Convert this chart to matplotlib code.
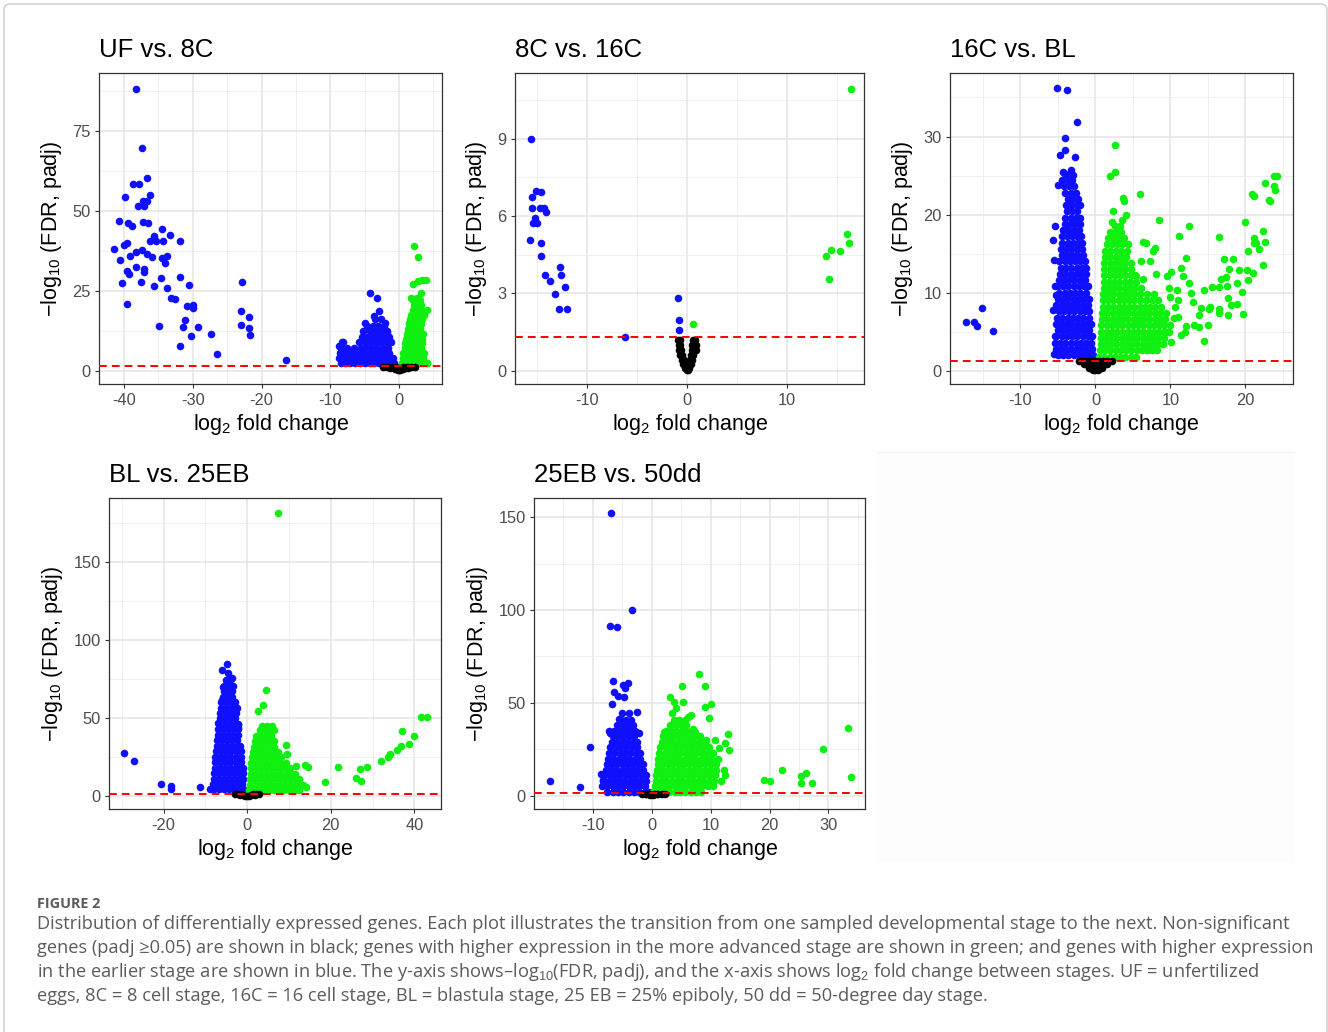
import numpy as np
import matplotlib.pyplot as plt
from matplotlib.patches import FancyBboxPatch, Rectangle
from matplotlib.transforms import IdentityTransform

plt.rcParams['font.family'] = ['Liberation Sans', 'DejaVu Sans']
plt.rcParams['mathtext.fontset'] = 'custom'
plt.rcParams['mathtext.rm'] = 'Liberation Sans'
plt.rcParams['mathtext.it'] = 'Liberation Sans:italic'
plt.rcParams['mathtext.bf'] = 'Liberation Sans:bold'
plt.rcParams['axes.unicode_minus'] = False

# ---------------- data ----------------
titles = ["UF vs. 8C", "8C vs. 16C", "16C vs. BL", "BL vs. 25EB", "25EB vs. 50dd"]
xlims = [(-43.6, 6.2), (-17.2, 17.7), (-19.4, 26.3), (-33.0, 46.3), (-19.9, 36.2)]
ylims = [(-4.3, 93.1), (-0.53, 11.54), (-1.74, 38.1), (-8.7, 190.6), (-7.3, 160.2)]
xticks = [[-40, -30, -20, -10, 0], [-10, 0, 10], [-10, 0, 10, 20],
          [-20, 0, 20, 40], [-10, 0, 10, 20, 30]]
yticks = [[0, 25, 50, 75], [0, 3, 6, 9], [0, 10, 20, 30],
          [0, 50, 100, 150], [0, 50, 100, 150]]
padj_cut = 0.05

# UF vs. 8C
uf_blue_pts = [(-38.3, 88.3), (-37.4, 69.7), (-36.6, 60.2), (-38.7, 58.3), (-37.8, 58.3),
               (-36.2, 55.0), (-39.9, 54.4), (-37.2, 53.2), (-36.7, 53.2), (-38.0, 51.6),
               (-37.1, 51.6), (-40.8, 46.9), (-39.4, 46.3), (-38.9, 45.4), (-37.2, 46.6),
               (-36.5, 46.3), (-34.5, 44.3), (-33.3, 42.4), (-35.7, 42.1), (-35.3, 40.7),
               (-36.2, 40.5), (-34.4, 40.5), (-31.8, 40.5), (-39.6, 40.1), (-40.0, 39.3),
               (-41.5, 38.0), (-38.3, 37.2), (-37.4, 37.8), (-36.7, 36.5), (-39.2, 35.9),
               (-36.0, 35.5), (-34.5, 35.1), (-33.7, 36.0), (-40.6, 34.6), (-34.0, 33.8),
               (-38.3, 32.3), (-37.1, 31.7), (-37.1, 31.0), (-39.5, 31.3), (-39.3, 30.2),
               (-31.8, 29.2), (-34.6, 29.0), (-37.5, 27.8), (-40.3, 27.5), (-30.6, 26.8),
               (-35.6, 26.6), (-33.7, 25.9), (-33.2, 22.8), (-32.6, 22.3), (-30.9, 20.2),
               (-29.9, 20.5), (-29.9, 19.5), (-39.6, 20.8), (-31.2, 15.9), (-31.4, 13.5),
               (-30.2, 10.8), (-29.2, 13.8), (-34.9, 14.1), (-31.8, 7.7), (-27.3, 11.5),
               (-26.5, 5.2), (-22.8, 27.8), (-23.0, 18.5), (-23.0, 14.4), (-21.8, 16.9),
               (-21.8, 13.2), (-21.7, 11.2), (-16.5, 3.3),
               (-4.3, 24.2), (-3.2, 22.7), (-2.9, 18.5), (-3.7, 17.1), (-4.9, 14.8),
               (-2.0, 14.8), (-8.2, 9.1), (-8.8, 7.7), (-1.8, 11.7), (-3.5, 16.0), (-2.6, 16.2)]
uf_blue_rows = [(2.5, [-8.5, -7.8, -7.1, -6.4, -5.7, -5.0, -4.3, -3.6, -2.9, -2.2, -1.5, -0.8]),
                (4.0, [-8.8, -8.0, -7.2, -6.4, -5.6, -4.8, -4.0, -3.2, -2.4, -1.6, -0.9]),
                (5.5, [-8.6, -7.8, -7.0, -6.2, -5.4, -4.6, -3.8, -3.0, -2.2, -1.4]),
                (7.0, [-8.5, -7.6, -6.6, -5.6, -4.8, -4.0, -3.2, -2.4, -1.6]),
                (8.8, [-8.3, -5.8, -5.0, -4.2, -3.4, -2.6, -1.8, -1.2]),
                (10.5, [-5.4, -4.6, -3.8, -3.0, -2.2, -1.4]),
                (12.3, [-5.2, -4.2, -3.4, -2.6, -1.8]),
                (14.0, [-4.6, -3.8, -3.0, -2.2])]
uf_green_pts = [(2.2, 39.1), (2.7, 35.7), (2.8, 28.2), (3.3, 28.4), (3.9, 28.4), (2.0, 27.1),
                (3.2, 24.2), (1.8, 22.6), (2.6, 22.6), (4.0, 19.0), (1.4, 14.8), (4.0, 2.5),
                (0.6, 5.4)]
uf_green_rows = [(2.5, [0.4, 1.0, 1.6, 2.2, 2.8, 3.4, 4.0]),
                 (4.0, [0.5, 1.1, 1.7, 2.3, 2.9, 3.5]),
                 (5.5, [0.7, 1.3, 1.9, 2.5, 3.1, 3.6]),
                 (7.0, [0.8, 1.4, 2.0, 2.6, 3.2]),
                 (8.5, [0.9, 1.5, 2.1, 2.7, 3.3]),
                 (10.0, [1.0, 1.6, 2.2, 2.8, 3.4]),
                 (11.5, [1.1, 1.7, 2.3, 2.9, 3.5]),
                 (13.0, [1.3, 1.9, 2.5, 3.1]),
                 (14.5, [1.4, 2.0, 2.6, 3.2]),
                 (16.0, [1.6, 2.2, 2.8, 3.4]),
                 (17.5, [1.8, 2.4, 3.0, 3.6]),
                 (19.0, [2.0, 2.6, 3.2]),
                 (20.5, [2.2, 2.8, 3.2]),
                 (22.0, [2.0, 2.6, 3.0])]
uf_black_rows = [(0.1, [-0.2, 0.0, 0.2]),
                 (0.4, [-0.6, -0.3, 0.3, 0.6]),
                 (0.8, [-1.3, -0.8, -0.4, 0.0, 0.4, 0.8, 1.3]),
                 (1.2, [-2.3, -1.7, -1.1, -0.5, 0.5, 1.1, 1.7, 2.3])]

# 8C vs. 16C
c8_blue_pts = [(-15.6, 9.0), (-15.1, 6.98), (-14.6, 6.92), (-15.5, 6.75), (-15.5, 6.30),
               (-14.7, 6.30), (-14.3, 6.32), (-14.1, 6.14), (-15.2, 5.94), (-15.4, 5.72),
               (-15.0, 5.72), (-15.7, 5.07), (-14.6, 4.94), (-14.6, 4.45), (-14.2, 3.70),
               (-13.7, 3.49), (-12.7, 4.03), (-12.6, 3.70), (-12.2, 3.26), (-13.2, 2.96),
               (-12.8, 2.41), (-12.0, 2.41), (-6.2, 1.29), (-0.9, 2.83), (-0.83, 1.98),
               (-0.83, 1.58)]
c8_blue_rows = []
c8_green_pts = [(16.4, 10.95), (0.63, 1.80), (13.9, 4.46), (14.4, 4.68), (15.3, 4.66),
                (16.0, 5.30), (16.2, 4.94), (14.2, 3.57)]
c8_green_rows = []
c8_black_rows = [(1.2, [-0.9, -0.75, 0.55, 0.7, 0.8]),
                 (1.0, [-0.85, -0.7, 0.5, 0.7, 0.85]),
                 (0.8, [-0.8, -0.6, 0.45, 0.65, 0.9]),
                 (0.6, [-0.7, -0.5, 0.35, 0.6]),
                 (0.4, [-0.55, -0.35, 0.25, 0.45]),
                 (0.25, [-0.4, -0.2, 0.15, 0.35]),
                 (0.1, [-0.2, 0.0, 0.2]),
                 (0.03, [-0.05, 0.05])]

# 16C vs. BL
c16_blue_pts = [(-5.1, 36.2), (-3.85, 36.0), (-2.5, 31.8), (-4.1, 29.8), (-4.1, 28.3),
                (-4.7, 27.6), (-2.7, 27.4), (-4.3, 25.4), (-3.3, 25.7), (-3.0, 25.1),
                (-5.0, 23.8), (-5.7, 16.7), (-5.4, 18.5), (-5.5, 14.2), (-5.4, 10.8),
                (-5.3, 9.7), (-5.7, 7.8), (-5.4, 4.4), (-5.5, 2.2), (-17.2, 6.3),
                (-16.2, 6.3), (-15.8, 5.7), (-15.1, 8.0), (-13.7, 5.1)]
c16_blue_rows = [(2.0, [-5.0, -4.3, -3.6, -2.9, -2.2, -1.5, -0.8, -0.3]),
                 (2.8, [-5.3, -4.6, -3.9, -3.2, -2.5, -1.8, -1.1, -0.5]),
                 (3.6, [-5.4, -4.7, -4.0, -3.3, -2.6, -1.9, -1.2, -0.6]),
                 (4.4, [-5.2, -4.5, -3.8, -3.1, -2.4, -1.7, -1.0, -0.5]),
                 (5.2, [-5.0, -4.3, -3.6, -2.9, -2.2, -1.5, -0.8]),
                 (6.0, [-5.3, -4.6, -3.9, -3.2, -2.5, -1.8, -1.1, -0.6]),
                 (6.8, [-5.1, -4.4, -3.7, -3.0, -2.3, -1.6, -0.9]),
                 (7.6, [-4.9, -4.2, -3.5, -2.8, -2.1, -1.4, -0.8]),
                 (8.4, [-5.2, -4.5, -3.8, -3.1, -2.4, -1.7, -1.0]),
                 (9.2, [-5.0, -4.3, -3.6, -2.9, -2.2, -1.5, -0.9]),
                 (10.0, [-4.8, -4.1, -3.4, -2.7, -2.0, -1.3]),
                 (10.8, [-5.0, -4.3, -3.6, -2.9, -2.2, -1.5, -1.0]),
                 (11.6, [-4.9, -4.2, -3.5, -2.8, -2.1, -1.4]),
                 (12.4, [-4.7, -4.0, -3.3, -2.6, -1.9, -1.2]),
                 (13.2, [-4.6, -3.9, -3.2, -2.5, -1.8, -1.3]),
                 (14.0, [-4.8, -4.1, -3.4, -2.7, -2.0, -1.4]),
                 (14.8, [-4.5, -3.8, -3.1, -2.4, -1.7]),
                 (15.6, [-4.6, -3.9, -3.2, -2.5, -1.8]),
                 (16.4, [-4.4, -3.7, -3.0, -2.3, -1.8]),
                 (17.2, [-4.5, -3.8, -3.1, -2.4, -1.9]),
                 (18.0, [-4.3, -3.6, -2.9, -2.2]),
                 (18.8, [-4.1, -3.4, -2.7, -2.0]),
                 (19.6, [-4.0, -3.3, -2.6, -2.1]),
                 (20.4, [-3.8, -3.1, -2.4]),
                 (21.2, [-3.9, -3.2, -2.5, -2.0]),
                 (22.0, [-3.7, -3.0, -2.3]),
                 (22.8, [-4.0, -3.3, -2.6]),
                 (23.6, [-4.2, -3.5, -2.8]),
                 (24.4, [-4.5, -3.6, -3.1]),
                 (25.2, [-4.1, -3.4])]
c16_green_pts = [(2.65, 28.9), (2.57, 25.5), (2.0, 24.9), (5.9, 22.6), (3.7, 22.1), (3.8, 21.7),
                 (2.35, 20.5), (4.1, 20.0), (2.2, 19.1), (3.6, 19.3), (8.45, 19.3), (12.5, 18.5),
                 (11.2, 17.3), (16.5, 17.1), (6.3, 16.5), (6.8, 16.3), (7.9, 15.7), (7.7, 15.3),
                 (6.1, 14.0), (7.3, 14.0), (12.1, 14.5), (8.1, 12.4), (5.4, 12.1), (6.3, 11.8),
                 (9.5, 12.1), (10.1, 12.7), (11.4, 13.1), (11.7, 12.1), (12.5, 11.2),
                 (17.2, 14.3), (18.3, 14.3), (17.8, 13.0), (19.2, 12.9), (20.2, 12.9),
                 (21.0, 12.5), (22.3, 13.5), (16.7, 11.8), (17.4, 12.0), (16.5, 10.7),
                 (15.6, 10.7), (14.5, 10.3), (17.6, 10.8), (18.9, 11.2), (20.3, 11.6),
                 (19.6, 10.1), (17.7, 9.3), (18.1, 8.4), (18.9, 8.6), (16.5, 7.9), (16.5, 7.4),
                 (17.7, 7.2), (19.7, 7.3), (15.1, 7.9), (15.3, 8.2), (14.1, 8.0), (13.8, 7.1),
                 (13.0, 8.8), (12.7, 9.9), (14.5, 3.85), (15.0, 5.8), (13.8, 5.6), (13.2, 5.9),
                 (12.1, 5.7), (11.9, 5.0), (11.4, 4.6), (10.1, 3.7), (9.5, 5.0), (10.5, 6.7),
                 (11.0, 6.9), (20.9, 22.7), (21.2, 22.4), (22.6, 24.0), (23.8, 24.9),
                 (24.2, 24.9), (23.8, 23.6), (23.9, 23.2), (23.1, 21.9), (23.3, 21.8),
                 (22.3, 17.9), (20.0, 19.1), (21.2, 17.0), (21.4, 16.3), (21.1, 16.3),
                 (20.3, 15.3), (21.8, 15.6), (22.6, 16.5), (10.0, 9.5), (11.0, 9.0),
                 (10.6, 8.2), (9.8, 10.6), (10.9, 10.3)]
c16_green_rows = [(1.8, [0.5, 1.2, 1.9, 2.6, 3.3, 4.0, 4.7, 5.4]),
                  (2.6, [0.6, 1.3, 2.0, 2.7, 3.4, 4.1, 4.8, 5.5, 6.2, 6.9, 7.6, 8.2]),
                  (3.4, [0.7, 1.4, 2.1, 2.8, 3.5, 4.2, 4.9, 5.6, 6.3, 7.0, 7.7, 8.4, 9.0]),
                  (4.2, [0.7, 1.4, 2.1, 2.8, 3.5, 4.2, 4.9, 5.6, 6.3, 7.0, 7.7, 8.4, 9.1]),
                  (5.0, [0.8, 1.5, 2.2, 2.9, 3.6, 4.3, 5.0, 5.7, 6.4, 7.1, 7.8, 8.5, 9.2, 9.8]),
                  (5.8, [0.8, 1.5, 2.2, 2.9, 3.6, 4.3, 5.0, 5.7, 6.4, 7.1, 7.8, 8.5, 9.2, 9.9]),
                  (6.6, [0.9, 1.6, 2.3, 3.0, 3.7, 4.4, 5.1, 5.8, 6.5, 7.2, 7.9, 8.6, 9.3]),
                  (7.4, [0.9, 1.6, 2.3, 3.0, 3.7, 4.4, 5.1, 5.8, 6.5, 7.2, 7.9, 8.6, 9.4]),
                  (8.2, [1.0, 1.7, 2.4, 3.1, 3.8, 4.5, 5.2, 5.9, 6.6, 7.3, 8.0, 8.8]),
                  (9.0, [1.0, 1.7, 2.4, 3.1, 3.8, 4.5, 5.2, 5.9, 6.7, 7.5, 8.4]),
                  (9.8, [1.0, 1.7, 2.4, 3.1, 3.8, 4.5, 5.2, 6.0, 6.9, 7.8]),
                  (10.6, [1.1, 1.8, 2.5, 3.2, 3.9, 4.6, 5.3, 6.1]),
                  (11.4, [1.1, 1.8, 2.5, 3.2, 3.9, 4.6, 5.4]),
                  (12.2, [1.2, 1.9, 2.6, 3.3, 4.0, 4.7, 5.3]),
                  (13.0, [1.2, 1.9, 2.6, 3.3, 4.0, 4.8]),
                  (13.8, [1.2, 1.9, 2.6, 3.3, 4.0, 4.7]),
                  (14.6, [1.3, 2.0, 2.7, 3.4, 4.1]),
                  (15.4, [1.3, 2.0, 2.7, 3.4, 4.2]),
                  (16.2, [1.5, 2.2, 2.9, 3.6, 4.3]),
                  (17.0, [1.7, 2.4, 3.1, 3.8]),
                  (17.8, [2.0, 2.7, 3.4]),
                  (18.6, [2.6, 3.3])]
c16_black_rows = [(1.2, [-2.2, -1.6, -1.0, -0.5, 0.0, 0.5, 1.0, 1.6, 2.2]),
                  (0.8, [-1.5, -1.0, -0.5, 0.0, 0.5, 1.0, 1.5]),
                  (0.4, [-0.9, -0.45, 0.0, 0.45, 0.9]),
                  (0.1, [-0.3, 0.0, 0.3])]

# BL vs. 25EB
bl_blue_pts = [(-29.4, 27.6), (-27.1, 22.2), (-20.6, 7.3), (-18.3, 6.4), (-18.3, 4.3),
               (-11.3, 5.8), (-8.9, 4.3), (-4.9, 84.2), (-6.1, 80.6), (-3.7, 75.2),
               (-4.5, 78.4), (-5.7, 69.9), (-5.3, 66.7), (-6.1, 61.4), (-2.5, 56.0),
               (-6.9, 46.4), (-2.1, 45.3), (-2.3, 43.2)]
bl_blue_rows = [(4.0, [-8.0, -6.8, -5.6, -4.4, -3.2, -2.0, -0.9]),
                (7.5, [-8.3, -7.1, -5.9, -4.7, -3.5, -2.3, -1.2]),
                (11.0, [-8.0, -6.8, -5.6, -4.4, -3.2, -2.0, -0.9]),
                (14.5, [-7.9, -6.7, -5.5, -4.3, -3.1, -1.9, -0.9]),
                (18.0, [-7.8, -6.6, -5.4, -4.2, -3.0, -1.8, -1.0]),
                (21.5, [-7.6, -6.4, -5.2, -4.0, -2.8, -1.6]),
                (25.0, [-7.6, -6.4, -5.2, -4.0, -2.8, -1.5]),
                (28.5, [-7.4, -6.2, -5.0, -3.8, -2.6, -1.6]),
                (32.0, [-7.3, -6.1, -4.9, -3.7, -2.5, -1.7]),
                (35.5, [-7.2, -6.0, -4.8, -3.6, -2.4]),
                (39.0, [-7.0, -5.8, -4.6, -3.4, -2.3]),
                (42.5, [-6.9, -5.7, -4.5, -3.3, -2.3]),
                (46.0, [-6.8, -5.6, -4.4, -3.2, -2.2]),
                (49.5, [-6.6, -5.4, -4.2, -3.0]),
                (53.0, [-6.4, -5.2, -4.0, -2.8]),
                (56.5, [-6.3, -5.1, -3.9, -2.7]),
                (60.0, [-6.2, -5.0, -3.8, -2.9]),
                (63.5, [-5.9, -4.8, -3.7]),
                (67.0, [-5.6, -4.6, -3.6]),
                (70.5, [-5.5, -4.5, -3.5]),
                (74.0, [-5.0, -4.0])]
bl_green_pts = [(7.4, 181.4), (4.5, 67.7), (3.8, 58.1), (2.5, 54.5), (9.2, 32.5), (9.6, 26.5),
                (11.6, 19.2), (13.9, 19.7), (14.6, 18.6), (14.0, 5.3), (18.7, 8.5), (21.8, 18.2),
                (26.1, 11.5), (27.2, 9.4), (26.9, 16.9), (28.7, 18.6), (32.1, 22.2), (33.7, 25.0),
                (34.1, 26.7), (35.9, 29.3), (36.7, 32.1), (37.1, 41.5), (38.7, 32.9), (39.8, 38.2),
                (41.5, 50.2), (43.1, 50.2), (5.8, 44.3), (4.6, 44.3), (5.4, 38.9)]
bl_green_rows = [(3.5, [0.5, 1.7, 2.9, 4.1, 5.3, 6.5, 7.7, 8.9, 10.1, 11.3, 12.5]),
                 (7.0, [0.6, 1.8, 3.0, 4.2, 5.4, 6.6, 7.8, 9.0, 10.2, 11.4, 12.6, 13.4]),
                 (10.5, [0.7, 1.9, 3.1, 4.3, 5.5, 6.7, 7.9, 9.1, 10.3, 11.5, 12.5]),
                 (14.0, [0.8, 2.0, 3.2, 4.4, 5.6, 6.8, 8.0, 9.2, 10.4, 11.4]),
                 (17.5, [0.9, 2.1, 3.3, 4.5, 5.7, 6.9, 8.1, 9.3, 10.3]),
                 (21.0, [1.0, 2.2, 3.4, 4.6, 5.8, 7.0, 8.2, 9.2]),
                 (24.5, [1.2, 2.4, 3.6, 4.8, 6.0, 7.2, 8.2]),
                 (28.0, [1.4, 2.6, 3.8, 5.0, 6.2, 7.3]),
                 (31.5, [1.6, 2.8, 4.0, 5.2, 6.4]),
                 (35.0, [1.8, 3.0, 4.2, 5.4, 6.5]),
                 (38.5, [2.2, 3.4, 4.6, 5.8]),
                 (42.0, [3.0, 4.2, 5.4, 6.4]),
                 (44.5, [3.6, 4.8, 5.9])]
bl_black_rows = [(1.2, [-3.0, -2.2, -1.4, 1.4, 2.2, 2.8]),
                 (0.6, [-1.8, -1.0, 1.0, 1.8]),
                 (0.1, [-0.5, 0.0, 0.5])]

# 25EB vs. 50dd
eb_blue_pts = [(-6.9, 152.5), (-3.4, 99.9), (-7.0, 91.4), (-5.9, 91.1), (-10.4, 26.2),
               (-17.2, 7.9), (-12.2, 4.9), (-6.6, 62.0), (-4.8, 59.6), (-4.0, 60.9),
               (-4.5, 58.2), (-6.3, 56.0), (-5.7, 53.9), (-6.7, 49.2), (-4.6, 53.3),
               (-5.1, 44.4), (-3.9, 44.7), (-2.5, 44.9), (-5.6, 41.3), (-7.3, 34.8),
               (-7.0, 33.6), (-2.6, 34.1), (-2.2, 33.6), (-8.6, 11.7), (-8.2, 8.4)]
eb_blue_rows = [(2.0, [-7.5, -6.6, -5.7, -4.8, -3.9, -3.0, -2.1, -1.2, -0.5]),
                (5.0, [-8.4, -7.5, -6.6, -5.7, -4.8, -3.9, -3.0, -2.1, -1.2]),
                (8.0, [-8.2, -7.3, -6.4, -5.5, -4.6, -3.7, -2.8, -1.9, -1.0]),
                (11.0, [-8.0, -7.1, -6.2, -5.3, -4.4, -3.5, -2.6, -1.7, -0.9]),
                (14.0, [-7.8, -6.9, -6.0, -5.1, -4.2, -3.3, -2.4, -1.5]),
                (17.0, [-7.6, -6.7, -5.8, -4.9, -4.0, -3.1, -2.2, -1.4]),
                (20.0, [-7.4, -6.5, -5.6, -4.7, -3.8, -2.9, -2.0]),
                (23.0, [-7.2, -6.3, -5.4, -4.5, -3.6, -2.7, -1.9]),
                (26.0, [-7.0, -6.1, -5.2, -4.3, -3.4, -2.5]),
                (29.0, [-6.8, -5.9, -5.0, -4.1, -3.2, -2.4]),
                (32.0, [-6.6, -5.7, -4.8, -3.9, -3.0]),
                (35.0, [-6.3, -5.4, -4.5, -3.6, -2.8]),
                (38.0, [-5.8, -4.9, -4.0, -3.2]),
                (41.0, [-5.2, -4.3, -3.5])]
eb_green_pts = [(8.1, 65.6), (5.1, 59.1), (9.0, 59.1), (3.1, 53.0), (5.3, 50.7), (3.8, 50.7),
                (10.1, 49.4), (9.1, 48.0), (4.1, 47.4), (3.4, 44.4), (6.6, 43.5), (6.2, 42.6),
                (9.7, 41.7), (4.6, 39.5), (5.6, 37.7), (12.9, 33.1), (2.1, 34.5), (13.2, 24.6),
                (12.4, 28.2), (11.5, 25.5), (10.8, 30.0), (7.0, 35.9), (7.3, 34.5), (9.3, 30.0),
                (8.4, 29.1), (19.1, 8.4), (20.1, 7.9), (22.2, 13.8), (25.3, 6.6), (25.3, 10.8),
                (26.2, 12.0), (27.2, 6.6), (29.0, 25.1), (33.3, 36.3), (33.8, 10.2)]
eb_green_rows = [(2.0, [0.3, 1.2, 2.1, 3.0, 3.9, 4.8, 5.7, 6.6, 7.5, 8.4]),
                 (5.0, [0.5, 1.4, 2.3, 3.2, 4.1, 5.0, 5.9, 6.8, 7.7, 8.6, 9.5, 10.4]),
                 (8.0, [0.7, 1.6, 2.5, 3.4, 4.3, 5.2, 6.1, 7.0, 7.9, 8.8, 9.7, 10.6, 11.8]),
                 (11.0, [0.8, 1.7, 2.6, 3.5, 4.4, 5.3, 6.2, 7.1, 8.0, 8.9, 9.8, 10.7, 12.4]),
                 (14.0, [0.9, 1.8, 2.7, 3.6, 4.5, 5.4, 6.3, 7.2, 8.1, 9.0, 9.9, 10.9, 12.3]),
                 (17.0, [1.0, 1.9, 2.8, 3.7, 4.6, 5.5, 6.4, 7.3, 8.2, 9.1, 10.0, 11.0]),
                 (20.0, [1.1, 2.0, 2.9, 3.8, 4.7, 5.6, 6.5, 7.4, 8.3, 9.2, 10.1, 11.2]),
                 (23.0, [1.3, 2.2, 3.1, 4.0, 4.9, 5.8, 6.7, 7.6, 8.5, 9.4, 10.4]),
                 (26.0, [1.5, 2.4, 3.3, 4.2, 5.1, 6.0, 6.9, 7.8, 8.7, 9.8]),
                 (29.0, [1.7, 2.6, 3.5, 4.4, 5.3, 6.2, 7.1, 8.0, 9.0]),
                 (32.0, [2.0, 2.9, 3.8, 4.7, 5.6, 6.5, 7.4, 8.2]),
                 (35.0, [2.4, 3.3, 4.2, 5.1, 6.0, 6.9]),
                 (38.0, [3.2, 4.1, 5.0, 5.9]),
                 (41.0, [3.8, 4.7, 5.6])]
eb_black_rows = [(1.2, [-1.6, -0.9, 0.9, 1.7, 2.3]),
                 (0.7, [-1.0, -0.4, 0.4, 1.0]),
                 (0.2, [-0.3, 0.3])]

panels = [
    (uf_blue_pts, uf_blue_rows, uf_green_pts, uf_green_rows, uf_black_rows),
    (c8_blue_pts, c8_blue_rows, c8_green_pts, c8_green_rows, c8_black_rows),
    (c16_blue_pts, c16_blue_rows, c16_green_pts, c16_green_rows, c16_black_rows),
    (bl_blue_pts, bl_blue_rows, bl_green_pts, bl_green_rows, bl_black_rows),
    (eb_blue_pts, eb_blue_rows, eb_green_pts, eb_green_rows, eb_black_rows),
]

caption_head = "FIGURE 2"
caption_lines = [
    "Distribution of differentially expressed genes. Each plot illustrates the transition from one sampled developmental stage to the next. Non-significant",
    "genes (padj \u22650.05) are shown in black; genes with higher expression in the more advanced stage are shown in green; and genes with higher expression",
    "in the earlier stage are shown in blue. The y-axis shows\u2013log$_{10}$(FDR, padj), and the x-axis shows log$_2$ fold change between stages. UF = unfertilized",
    "eggs, 8C = 8 cell stage, 16C = 16 cell stage, BL = blastula stage, 25 EB = 25% epiboly, 50 dd = 50-degree day stage.",
]
# right ends of the caption lines in the reference (pixels)
caption_ends = [1289, 1313, 1275, 1015]


def collect(pts, rows):
    xs = [p[0] for p in pts]
    ys = [p[1] for p in pts]
    for y, row in rows:
        xs.extend(row)
        ys.extend([y] * len(row))
    return np.array(xs), np.array(ys)


# ---------------- layout ----------------
W, H = 1328, 1032
fig = plt.figure(figsize=(W / 100, H / 100), dpi=100)
fig.patch.set_facecolor('white')

# panel boxes in pixels: left, top, right, bottom
boxes = [(99.3, 73.3, 441.7, 384.3), (515, 73.3, 864.3, 384.3), (950, 73.3, 1292.7, 384.3),
         (109.3, 498.3, 440.7, 809.3), (534.3, 498.3, 865, 809.3)]

# faint empty sixth slot
fig.add_artist(Rectangle((878, H - 862), 416, 410, transform=IdentityTransform(),
                         facecolor='#fdfdfd', edgecolor='none', zorder=0))
fig.add_artist(plt.Line2D([878, 1294], [H - 452, H - 452], transform=IdentityTransform(),
                          color='#f3f3f3', lw=1))

# outer frame
fig.add_artist(FancyBboxPatch((4, -20), 1323, H - 4 + 20, boxstyle='round,pad=0,rounding_size=6',
                              transform=IdentityTransform(), fill=False,
                              edgecolor='#c9c9c9', lw=1.0))

for i, (bpts, brows, gpts, grows, krows) in enumerate(panels):
    l, t, r, b = boxes[i]
    ax = fig.add_axes([l / W, 1 - b / H, (r - l) / W, (b - t) / H])
    bx, by = collect(bpts, brows)
    gx, gy = collect(gpts, grows)
    kx, ky = collect([], krows)
    ax.scatter(bx, by, s=30, color='#1010ff', lw=0, zorder=3)
    ax.scatter(gx, gy, s=30, color='#10f010', lw=0, zorder=3)
    ax.scatter(kx, ky, s=30, color='black', lw=0, zorder=4)
    ax.axhline(-np.log10(padj_cut), color='red', lw=1.4, ls=(0, (4, 2.6)), zorder=5)

    xt = xticks[i]
    yt = yticks[i]
    ax.set_xticks(xt)
    ax.set_yticks(yt)
    sx = xt[1] - xt[0]
    sy = yt[1] - yt[0]
    ax.set_xticks([v - sx / 2 for v in xt] + [xt[-1] + sx / 2], minor=True)
    ax.set_yticks([v - sy / 2 for v in yt] + [yt[-1] + sy / 2], minor=True)
    ax.set_xlim(*xlims[i])
    ax.set_ylim(*ylims[i])
    ax.grid(which='major', color='#e6e6e6', lw=1.2, zorder=0)
    ax.grid(which='minor', color='#efefef', lw=0.7, zorder=0)
    ax.set_axisbelow(True)
    ax.tick_params(which='minor', length=0)
    ax.tick_params(which='major', length=3, width=0.8, color='#333333', pad=3,
                   labelsize=11.8, labelcolor='#4d4d4d')
    for sp in ax.spines.values():
        sp.set_color('#333333')
        sp.set_linewidth(0.9)

    ax.set_title(titles[i], loc='left', fontsize=18.5, pad=11.5, color='black')
    ax.set_xlabel('log$_2$ fold change', fontsize=15.5, labelpad=3)
    ax.set_ylabel('\u2212log$_{10}$ (FDR, padj)', fontsize=15.5, labelpad=6)

# caption
cap_font = ['Open Sans', 'DejaVu Sans']
head = fig.text(37 / W, 1 - 908 / H, caption_head, fontsize=9.5, fontweight='bold',
                color='#5b5b5b', family=cap_font, va='baseline')
cap_texts = []
for k, line in enumerate(caption_lines):
    cap_texts.append(fig.text(37 / W, 1 - (929 + 24 * k) / H, line, fontsize=12.0,
                              color='#5b5b5b', family=cap_font, va='baseline'))

# fit the caption font size so that no line runs past its reference end
renderer = fig.canvas.get_renderer()
ratios = []
for t, end in zip(cap_texts, caption_ends):
    ratios.append((end - 37) / t.get_window_extent(renderer).width)
cap_size = 12.0 * min(ratios)
for t in cap_texts:
    t.set_fontsize(cap_size)
head.set_fontsize(9.5 * 64 / head.get_window_extent(renderer).width)

fig.savefig('out.png', dpi=100)
